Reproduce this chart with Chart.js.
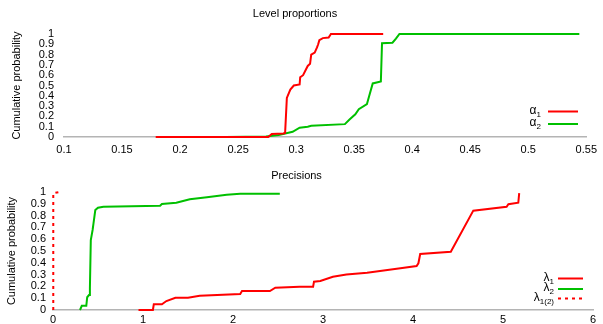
<!DOCTYPE html>
<html>
<head>
<meta charset="utf-8">
<script src="https://cdn.jsdelivr.net/npm/chart.js@4.4.0/dist/chart.umd.min.js"></script>
<style>
  html, body { margin: 0; padding: 0; background: #fff; }
  canvas { display: block; }
</style>
</head>
<body>
<canvas id="levels" width="603" height="162"></canvas>
<canvas id="precisions" width="603" height="162"></canvas>
<script>
// --- Level proportions (top panel) ---
const alpha1X = [0.179, 0.276, 0.279, 0.289, 0.2905, 0.292, 0.295, 0.298, 0.303, 0.3035, 0.306, 0.308, 0.310, 0.312, 0.313, 0.316, 0.318, 0.319, 0.320, 0.323, 0.328, 0.330, 0.375];
const alpha1Y = [0, 0, 0.03, 0.035, 0.04, 0.38, 0.46, 0.50, 0.51, 0.58, 0.60, 0.645, 0.69, 0.71, 0.80, 0.82, 0.87, 0.90, 0.94, 0.96, 0.965, 1.0, 1.0];
const alpha2X = [0.239, 0.274, 0.285, 0.297, 0.303, 0.310, 0.313, 0.342, 0.346, 0.351, 0.354, 0.361, 0.363, 0.366, 0.373, 0.374, 0.383, 0.386, 0.389, 0.544];
const alpha2Y = [0, 0.005, 0.02, 0.05, 0.09, 0.10, 0.11, 0.125, 0.17, 0.22, 0.27, 0.32, 0.40, 0.52, 0.54, 0.91, 0.915, 0.955, 1.0, 1.0];

// --- Precisions (bottom panel) ---
const lambda1X = [0.95, 1.11, 1.12, 1.21, 1.26, 1.36, 1.50, 1.63, 2.08, 2.10, 2.41, 2.47, 2.74, 2.89, 2.90, 2.97, 3.11, 3.26, 3.49, 3.86, 4.04, 4.06, 4.08, 4.42, 4.67, 5.04, 5.06, 5.17, 5.18];
const lambda1Y = [0, 0, 0.048, 0.048, 0.076, 0.104, 0.104, 0.121, 0.136, 0.161, 0.161, 0.189, 0.197, 0.197, 0.24, 0.246, 0.282, 0.30, 0.316, 0.353, 0.373, 0.396, 0.475, 0.494, 0.842, 0.875, 0.896, 0.909, 0.99];
const lambda2X = [0.30, 0.32, 0.37, 0.38, 0.40, 0.41, 0.42, 0.44, 0.45, 0.47, 0.50, 0.56, 1.19, 1.21, 1.37, 1.52, 1.71, 1.93, 2.08, 2.52];
const lambda2Y = [0, 0.036, 0.036, 0.108, 0.127, 0.184, 0.593, 0.678, 0.735, 0.847, 0.867, 0.875, 0.884, 0.898, 0.909, 0.938, 0.955, 0.977, 0.986, 0.986];
const lambda12X = [0.003, 0.003, 0.07];
const lambda12Y = [0, 0.99, 1.0];

const RED = '#ff0000';
const GREEN = '#00c000';
const FONT = 'Liberation Sans, Arial, sans-serif';

const zip = (xs, ys) => xs.map((x, i) => ({ x: x, y: ys[i] }));
const fmt = v => String(Number(Number(v).toFixed(2)));

// gnuplot-like key drawn inside the plot, bottom right
const cdfKey = {
  id: 'cdfKey',
  afterDatasetsDraw(chart, args, opts) {
    const ctx = chart.ctx;
    ctx.save();
    opts.items.forEach((item, i) => {
      const ds = chart.data.datasets[i];
      const y = opts.rows[i];
      ctx.strokeStyle = ds.borderColor;
      ctx.lineWidth = 2;
      ctx.setLineDash(ds.borderDash || []);
      ctx.beginPath();
      ctx.moveTo(opts.lineX0, y);
      ctx.lineTo(opts.lineX1, y);
      ctx.stroke();
      ctx.setLineDash([]);

      ctx.fillStyle = '#000';
      ctx.textBaseline = 'middle';
      ctx.textAlign = 'left';
      ctx.font = '8px ' + FONT;
      const subW = ctx.measureText(item.sub).width;
      ctx.font = '12px ' + FONT;
      const mainW = ctx.measureText(item.main).width;
      const x0 = opts.textRight - subW - mainW;
      ctx.fillText(item.main, x0, y - 1);
      ctx.font = '8px ' + FONT;
      ctx.fillText(item.sub, x0 + mainW, y + 3);
    });
    ctx.restore();
  }
};

function makeOptions(cfg) {
  return {
    responsive: false,
    animation: false,
    devicePixelRatio: 1,
    layout: { padding: { left: 0, right: cfg.padRight, top: 0, bottom: 0 } },
    plugins: {
      legend: { display: false },
      tooltip: { enabled: false },
      title: {
        display: true,
        text: cfg.title,
        color: '#000',
        font: { family: FONT, size: 11, weight: 'normal' },
        padding: { top: cfg.titleTop, bottom: cfg.titleBottom }
      },
      cdfKey: cfg.key
    },
    scales: {
      x: {
        type: 'linear',
        min: cfg.xMin,
        max: cfg.xMax,
        grid: { display: false, drawTicks: false },
        border: { display: true, color: '#b4b4b4', width: 1.5 },
        ticks: {
          stepSize: cfg.xStep,
          autoSkip: false,
          maxRotation: 0,
          padding: cfg.xTickPad,
          color: '#000',
          font: { family: FONT, size: 11 },
          callback: fmt
        },
        afterFit: s => { s.height = cfg.xHeight; }
      },
      y: {
        type: 'linear',
        min: 0,
        max: 1,
        grid: { display: false, drawTicks: false },
        border: { display: false },
        ticks: {
          stepSize: 0.1,
          autoSkip: false,
          padding: cfg.yTickPad,
          color: '#000',
          font: { family: FONT, size: 11 },
          callback: fmt
        },
        title: {
          display: true,
          text: 'Cumulative probability',
          color: '#000',
          font: { family: FONT, size: 11 },
          padding: { top: cfg.yTitlePad, bottom: 0 }
        },
        afterFit: s => { s.width = cfg.yWidth; }
      }
    }
  };
}

const lineStyle = { borderWidth: 2, pointRadius: 0, tension: 0, fill: false, clip: false };

new Chart(document.getElementById('levels'), {
  type: 'line',
  data: {
    datasets: [
      Object.assign({ label: 'α1', data: zip(alpha1X, alpha1Y), borderColor: RED }, lineStyle),
      Object.assign({ label: 'α2', data: zip(alpha2X, alpha2Y), borderColor: GREEN }, lineStyle)
    ]
  },
  options: makeOptions({
    title: 'Level proportions', titleTop: 7.5, titleBottom: 13.3,
    xMin: 0.1, xMax: 0.55, xStep: 0.05, xTickPad: 6, xHeight: 25,
    yWidth: 64, yTickPad: 10, yTitlePad: 10, padRight: 13,
    key: {
      items: [{ main: 'α', sub: '1' }, { main: 'α', sub: '2' }],
      rows: [111.5, 124],
      lineX0: 548, lineX1: 578, textRight: 541
    }
  }),
  plugins: [cdfKey]
});

new Chart(document.getElementById('precisions'), {
  type: 'line',
  data: {
    datasets: [
      Object.assign({ label: 'λ1', data: zip(lambda1X, lambda1Y), borderColor: RED }, lineStyle),
      Object.assign({ label: 'λ2', data: zip(lambda2X, lambda2Y), borderColor: GREEN }, lineStyle),
      Object.assign({ label: 'λ1(2)', data: zip(lambda12X, lambda12Y), borderColor: RED, borderDash: [3, 4] }, lineStyle)
    ]
  },
  options: makeOptions({
    title: 'Precisions', titleTop: 7.5, titleBottom: 9.3,
    xMin: 0, xMax: 6, xStep: 1, xTickPad: 3, xHeight: 14,
    yWidth: 53, yTickPad: 7, yTitlePad: 5, padRight: 10,
    key: {
      items: [{ main: 'λ', sub: '1' }, { main: 'λ', sub: '2' }, { main: 'λ', sub: '1(2)' }],
      rows: [116.5, 127, 136.5],
      lineX0: 558, lineX1: 583, textRight: 554
    }
  }),
  plugins: [cdfKey]
});
</script>
</body>
</html>
